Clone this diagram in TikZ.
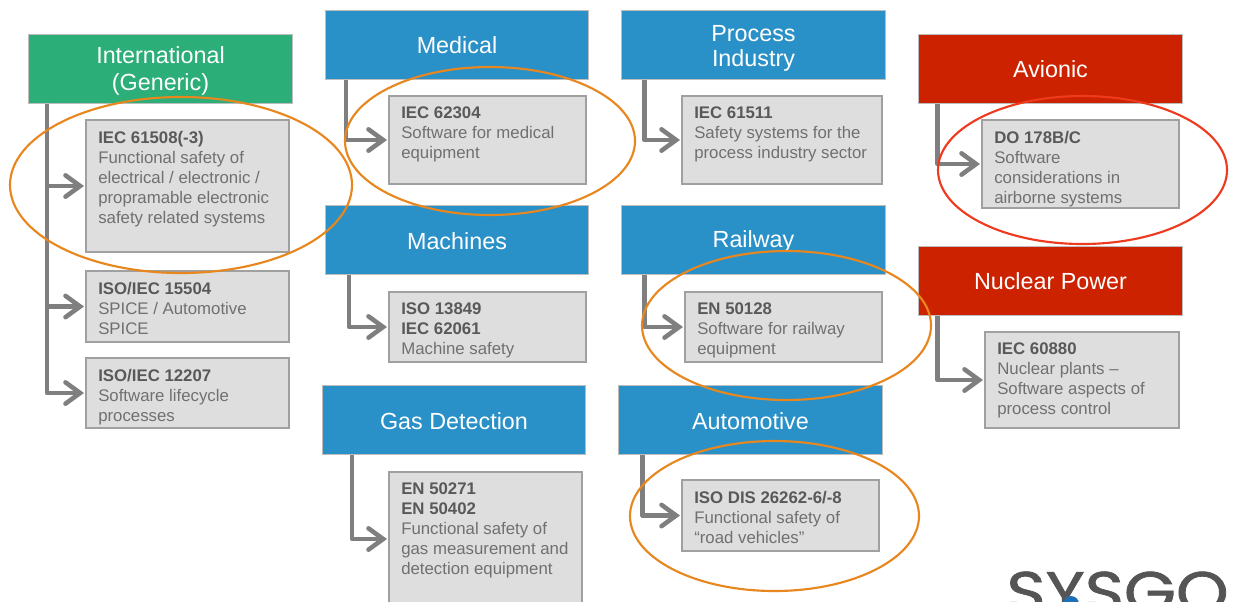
\documentclass[tikz,border=0pt]{standalone}
\usepackage{fontspec}
\setmainfont{Liberation Sans}
\newfontfamily\logofont[FakeBold=1.2]{Poppins}
\usetikzlibrary{arrows.meta,calc}
\definecolor{hgreen}{HTML}{2BAE77}
\definecolor{hblue}{HTML}{2A91C8}
\definecolor{hred}{HTML}{CC2200}
\definecolor{boxfill}{HTML}{DEDEDE}
\definecolor{boxline}{HTML}{A0A0A0}
\definecolor{conncol}{HTML}{7F7F7F}
\definecolor{ringorange}{HTML}{E8871E}
\definecolor{ringred}{HTML}{EE3A1E}
\definecolor{boldtext}{HTML}{595959}
\definecolor{bodytext}{HTML}{707070}
\definecolor{logogray}{HTML}{555555}
\definecolor{logoblue}{HTML}{1F6FB5}
\tikzset{
  hdr/.style={draw=boxline!70,line width=.5pt,text=white,align=center,inner sep=0pt,
    minimum width=197.6pt,minimum height=52pt,font=\fontsize{17.5pt}{18.8pt}\selectfont},
  grayb/.style={draw=boxline,line width=1pt,fill=boxfill,inner sep=0pt},
  conn/.style={draw=conncol,line width=3.4pt,line join=round,
    -{Straight Barb[length=11pt,width=16pt,line cap=round,line width=3.4pt]},shorten >=1pt},
  ring/.style={draw=ringorange,line width=1.6pt},
}
\newcommand{\hdrtop}{\rule[-2pt]{0pt}{17.6pt}}
\newcommand{\hdrtall}{\rule[-2pt]{0pt}{19.8pt}}
\newcommand{\hdrintl}{\rule[-2pt]{0pt}{18.3pt}}
\newcommand{\hdrlow}{\rule[-2pt]{0pt}{5pt}}
\newcommand{\gbox}[7]{%
  \node[grayb] (#1) at ({(#2+#4)/2},{(#3+#5)/2}) {%
    \begin{minipage}[c][\dimexpr0.75pt*(#5-#3)\relax][t]{\dimexpr0.75pt*(#4-#2)\relax}%
      \fontsize{12.6pt}{15pt}\selectfont\raggedright
      \leftskip=9.2pt\parindent=0pt
      \vspace*{8.3pt}%
      {\color{boldtext}\bfseries #6}\\%
      {\color{bodytext}#7}%
    \end{minipage}};}
\begin{document}
\begin{tikzpicture}[x=0.75pt,y=-0.75pt]
\useasboundingbox (0,0) rectangle (1234,601);
\clip (0,0) rectangle (1234,601);
\fill[white] (0,0) rectangle (1234,601);

% headers
\node[hdr,fill=hgreen] (intl) at (160.5,68.5) {\hdrintl International\\[1.5pt]\hdrlow (Generic)};
\node[hdr,fill=hblue] (med) at (457,44.5) {\hdrtop Medical};
\node[hdr,fill=hblue] (proc) at (753.5,44.5) {\hdrtall Process\\\hdrlow Industry};
\node[hdr,fill=hred] (avi) at (1050.5,68.5) {\hdrtop Avionic};
\node[hdr,fill=hblue] (mach) at (457,240) {\hdrtop Machines};
\node[hdr,fill=hblue] (rail) at (753.5,240) {\hdrtop Railway};
\node[hdr,fill=hred] (nuc) at (1050.5,280.5) {\hdrtop Nuclear Power};
\node[hdr,fill=hblue] (gas) at (454,420) {\hdrtop Gas Detection};
\node[hdr,fill=hblue] (auto) at (750.5,420) {\hdrtop Automotive};

% grey boxes
\gbox{iec61508}{86}{120}{289}{252}{IEC 61508(-3)}{Functional safety of\\electrical / electronic /\\propramable electronic\\safety related systems}
\gbox{iso15504}{86}{271}{289}{342}{ISO/IEC 15504}{SPICE / Automotive\\SPICE}
\gbox{iso12207}{86}{358}{289}{428}{ISO/IEC 12207}{Software lifecycle\\processes}
\gbox{iec62304}{389}{96}{586}{184}{IEC 62304}{Software for medical\\equipment}
\gbox{iec61511}{682}{96}{882}{184}{IEC 61511}{Safety systems for the\\process industry sector}
\gbox{do178}{982}{120}{1179}{208}{DO 178B/C}{Software\\considerations in\\airborne systems}
\gbox{iso13849}{389}{292}{586}{362}{ISO 13849\\IEC 62061}{Machine safety}
\gbox{en50128}{685}{292}{882}{362}{EN 50128}{Software for railway\\equipment}
\gbox{iec60880}{985}{332}{1179}{428}{IEC 60880}{Nuclear plants --\\Software aspects of\\process control}
\gbox{en50271}{389}{472}{582}{606}{EN 50271\\EN 50402}{Functional safety of\\gas measurement and\\detection equipment}
\gbox{isodis}{682}{480}{879}{551}{ISO DIS 26262-6/-8}{Functional safety of\\``road vehicles''}

% connectors
\draw[conn] ($(intl.south west)+(18.5,0)$) |- (iec61508.west);
\draw[conn] ($(intl.south west)+(18.5,0)$) |- (iso15504.west);
\draw[conn] ($(intl.south west)+(18.5,0)$) |- (iso12207.west);
\draw[conn] ($(med.south west)+(21,0)$) |- (iec62304.west);
\draw[conn] ($(proc.south west)+(23,0)$) |- (iec61511.west);
\draw[conn] ($(avi.south west)+(19,0)$) |- (do178.west);
\draw[conn] ($(mach.south west)+(24,0)$) |- (iso13849.west);
\draw[conn] ($(rail.south west)+(23,0)$) |- (en50128.west);
\draw[conn] ($(nuc.south west)+(19,0)$) |- (iec60880.west);
\draw[conn] ($(gas.south west)+(30,0)$) |- (en50271.west);
\draw[conn] ($(auto.south west)+(24,0)$) |- (isodis.west);

% highlight rings
\draw[ring] (181,185) ellipse [x radius=171,y radius=88];
\draw[ring] (490,141) ellipse [x radius=145,y radius=74];
\draw[ring] (786.5,325.5) ellipse [x radius=144.5,y radius=74.5];
\draw[ring] (774.5,516) ellipse [x radius=144.5,y radius=75];
\draw[ring,draw=ringred] (1082.5,170) ellipse [x radius=144.5,y radius=74];

% logo
\node[anchor=base,text=logogray,inner sep=0pt,xscale=1.14,font=\logofont\fontsize{44pt}{44pt}\selectfont] (logo) at (1117.5,613) {SYSGO};
\fill[logoblue] (1071,604) circle [radius=8];
\end{tikzpicture}
\end{document}
